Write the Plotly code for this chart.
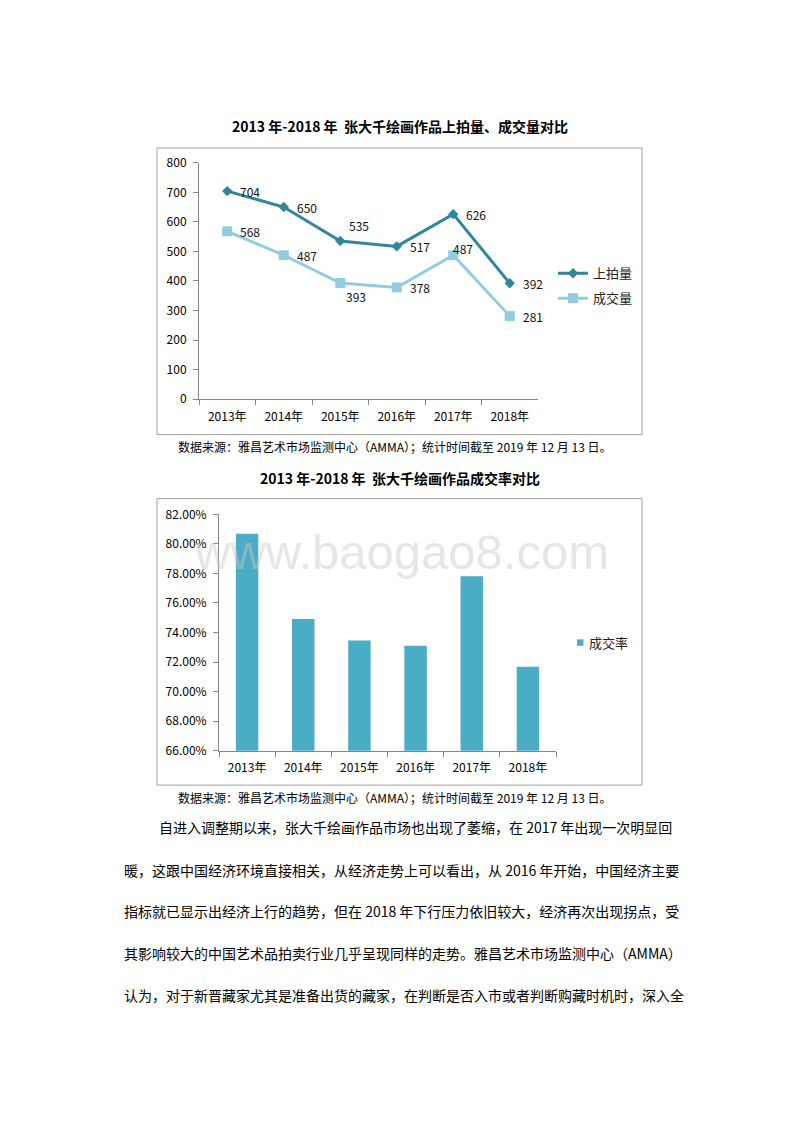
import plotly.graph_objects as go

# ---------------- data ----------------
years = ["2013年", "2014年", "2015年", "2016年", "2017年", "2018年"]
auctioned = [704, 650, 535, 517, 626, 392]      # 上拍量
sold = [568, 487, 393, 378, 487, 281]           # 成交量
rate = [0.8068, 0.7492, 0.7346, 0.7311, 0.7780, 0.7168]  # 成交率

title1 = "2013 年-2018 年  张大千绘画作品上拍量、成交量对比"
title2 = "2013 年-2018 年  张大千绘画作品成交率对比"
source = "数据来源：雅昌艺术市场监测中心（AMMA）；统计时间截至 2019 年 12 月 13 日。"
paragraph = [
    "自进入调整期以来，张大千绘画作品市场也出现了萎缩，在 2017 年出现一次明显回",
    "暖，这跟中国经济环境直接相关，从经济走势上可以看出，从 2016 年开始，中国经济主要",
    "指标就已显示出经济上行的趋势，但在 2018 年下行压力依旧较大，经济再次出现拐点，受",
    "其影响较大的中国艺术品拍卖行业几乎呈现同样的走势。雅昌艺术市场监测中心（AMMA）",
    "认为，对于新晋藏家尤其是准备出货的藏家，在判断是否入市或者判断购藏时机时，深入全",
]

# ---------------- layout helpers ----------------
# the page body has an 8px margin, so the figure is drawn 8px in from the window corner
M = 8
W, H = 800 - 2 * M, 1132 - 2 * M
def px(x):
    return (x - M) / W
def py(y):
    return 1 - (y - M) / H

FONT = "Noto Sans CJK SC, Noto Sans, sans-serif"
DARK = "#31859C"
LIGHT = "#93CDDD"
BAR = "#4BACC6"
AXIS = "#868686"

fig = go.Figure()

fig.add_trace(go.Scatter(
    x=years, y=auctioned, name="上拍量", mode="lines+markers",
    line=dict(color=DARK, width=3),
    marker=dict(symbol="diamond", size=8, color=DARK),
    xaxis="x", yaxis="y", legend="legend", legendgroup="a",
))
fig.add_trace(go.Scatter(
    x=years, y=sold, name="成交量", mode="lines+markers",
    line=dict(color=LIGHT, width=3),
    marker=dict(symbol="square", size=10, color=LIGHT),
    xaxis="x", yaxis="y", legend="legend", legendgroup="b",
))
fig.add_trace(go.Bar(
    x=years, y=rate, name="成交率", marker=dict(color=BAR, line=dict(width=0)),
    xaxis="x2", yaxis="y2", showlegend=False,
))

annotations = []

# data labels (offsets in px)
off_a = [(23, 0), (23, 0), (19, 16), (23, 0), (23, 0), (23, 0)]
off_b = [(23, 0), (23, 0), (16, -13), (23, 0), (10, 7), (23, 0)]
for yr, v, (dx, dy) in zip(years, auctioned, off_a):
    annotations.append(dict(x=yr, y=v, xref="x", yref="y", text=str(v), showarrow=False,
                            xshift=dx, yshift=dy, font=dict(family=FONT, size=12, color="#111")))
for yr, v, (dx, dy) in zip(years, sold, off_b):
    annotations.append(dict(x=yr, y=v, xref="x", yref="y", text=str(v), showarrow=False,
                            xshift=dx, yshift=dy, font=dict(family=FONT, size=12, color="#111")))

# titles
annotations.append(dict(x=px(400), y=py(118), xref="paper", yref="paper", text="<b>%s</b>" % title1,
                        showarrow=False, xanchor="center", yanchor="middle",
                        font=dict(family=FONT, size=14, color="#000")))
annotations.append(dict(x=px(400), y=py(475), xref="paper", yref="paper", text="<b>%s</b>" % title2,
                        showarrow=False, xanchor="center", yanchor="middle",
                        font=dict(family=FONT, size=14, color="#000")))
# sources
for yy in (443, 800):
    annotations.append(dict(x=px(176), y=py(yy), xref="paper", yref="paper", text=source,
                            showarrow=False, xanchor="left", yanchor="middle",
                            font=dict(family=FONT, size=12, color="#000")))
# paragraph
line_y = [830, 873, 915, 957, 1000]
line_x = [157, 122, 122, 122, 122]
for t, xx, yy in zip(paragraph, line_x, line_y):
    annotations.append(dict(x=px(xx), y=py(yy), xref="paper", yref="paper", text=t,
                            showarrow=False, xanchor="left", yanchor="middle",
                            font=dict(family=FONT, size=14, color="#000")))
# manual legend for bar chart
annotations.append(dict(x=px(587), y=py(642), xref="paper", yref="paper", text="成交率",
                        showarrow=False, xanchor="left", yanchor="middle",
                        font=dict(family=FONT, size=13, color="#222")))
# watermark
annotations.append(dict(x=px(401), y=py(550), xref="paper", yref="paper", text="www.baogao8.com",
                        showarrow=False, xanchor="center", yanchor="middle",
                        font=dict(family="Liberation Sans, Arial, sans-serif", size=49,
                                  color="rgba(200,200,200,0.45)")))

shapes = [
    dict(type="rect", xref="paper", yref="paper", x0=px(157), x1=px(642), y0=py(431), y1=py(140),
         line=dict(color="#a0a0a0", width=1), fillcolor="rgba(0,0,0,0)", layer="below"),
    dict(type="rect", xref="paper", yref="paper", x0=px(157), x1=px(642), y0=py(787), y1=py(496),
         line=dict(color="#a0a0a0", width=1), fillcolor="rgba(0,0,0,0)", layer="below"),
    dict(type="rect", xref="paper", yref="paper", x0=px(577), x1=px(583.5), y0=py(645.5), y1=py(639),
         line=dict(width=0), fillcolor=BAR),
]

axis_common = dict(showline=True, linecolor=AXIS, linewidth=1, ticks="outside", ticklen=5,
                   tickcolor=AXIS, showgrid=False, zeroline=False,
                   tickfont=dict(family=FONT, size=12, color="#000"), fixedrange=True)

fig.update_layout(
    width=W, height=H, margin=dict(l=0, r=0, t=0, b=0),
    paper_bgcolor="white", plot_bgcolor="rgba(0,0,0,0)",
    font=dict(family=FONT),
    xaxis=dict(domain=[px(199), px(538)], anchor="y", type="category", range=[-0.5, 5.5],
               tickson="boundaries", ticklabelstandoff=6, **axis_common),
    yaxis=dict(domain=[py(395), py(155)], anchor="x", range=[0, 800], dtick=100,
               ticklabelstandoff=4, **axis_common),
    xaxis2=dict(domain=[px(219), px(556)], anchor="y2", type="category", range=[-0.5, 5.5],
                tickson="boundaries", ticklabelstandoff=6, **axis_common),
    yaxis2=dict(domain=[py(752), py(512)], anchor="x2", range=[0.66, 0.82], dtick=0.02,
                tickformat=".2%", ticklabelstandoff=4, **axis_common),
    bargap=0.6,
    showlegend=True,
    legend=dict(x=px(553), y=py(252), xanchor="left", yanchor="top", bgcolor="rgba(0,0,0,0)",
                font=dict(family=FONT, size=13, color="#222"), tracegroupgap=5,
                itemclick=False, itemdoubleclick=False),
    annotations=annotations,
    shapes=shapes,
)

fig.write_html("out.html")
